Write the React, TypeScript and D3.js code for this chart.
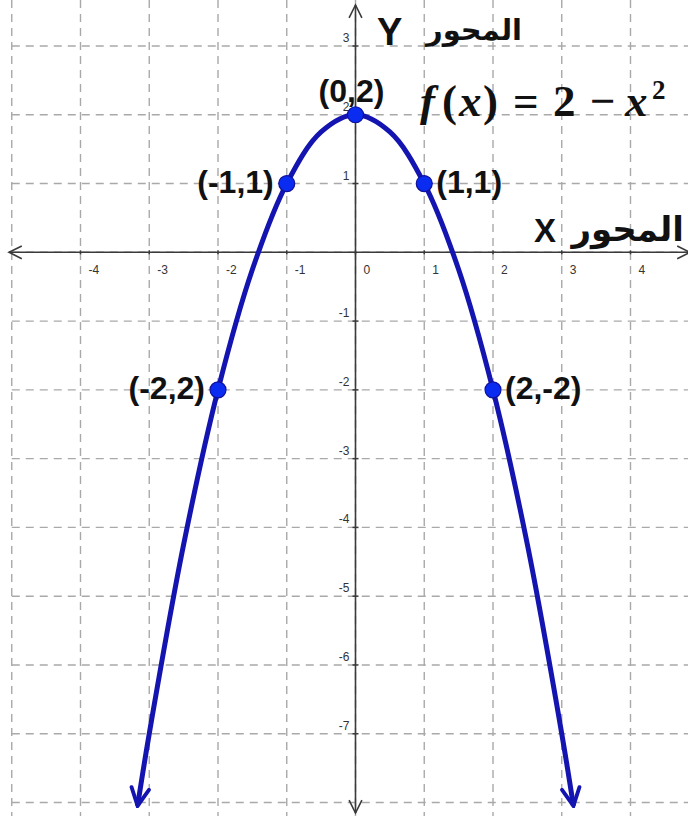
import React from 'react';
import * as d3 from 'd3';

// grid and tick values
const gridXs = [-5, -4, -3, -2, -1, 0, 1, 2, 3, 4];
const gridYs = [3, 2, 1, 0, -1, -2, -3, -4, -5, -6, -7, -8];
const xTickLabels = [-4, -3, -2, -1, 0, 1, 2, 3, 4];
const yTickLabels = [3, 2, 1, -1, -2, -3, -4, -5, -6, -7];

// curve
const curveXs = [-3.17, -3, -2.5, -2, -1.5, -1, -0.5, 0, 0.5, 1, 1.5, 2, 2.5, 3, 3.17];
const curveYs = [-8.05, -7, -4.25, -2, -0.25, 1, 1.75, 2, 1.75, 1, -0.25, -2, -4.25, -7, -8.05];

// marked points and their labels
const pointXs = [0, -1, 1, -2, 2];
const pointYs = [2, 1, 1, -2, -2];
const pointLabels = ['(0,2)', '(-1,1)', '(1,1)', '(-2,2)', '(2,-2)'];
const labelSide = ['top', 'left', 'right', 'left', 'right'];

const W = 688;
const H = 816;

const x = d3.scaleLinear().domain([-5, 4]).range([11.75, 630.5]);
const y = d3.scaleLinear().domain([3, -8]).range([46, 802.5]);

const curveColor = '#1414b0';
const pointColor = '#0a2cf0';
const axisColor = '#3a3a3a';

export default function App() {
  const line = d3
    .line<number>()
    .x((d) => x(d))
    .y((_, i) => y(curveYs[i]))
    .curve(d3.curveCatmullRom.alpha(0.5));

  const x0 = x(0);
  const y0 = y(0);

  return (
    <svg
      width={W}
      height={H}
      style={{ position: 'absolute', left: 0, top: 0, background: '#fff' }}
      fontFamily="'Liberation Sans', Arial, sans-serif"
    >
      <defs>
        <marker
          id="curveArrow"
          viewBox="0 0 20 20"
          refX={18}
          refY={10}
          markerWidth={22}
          markerHeight={22}
          markerUnits="userSpaceOnUse"
          orient="auto-start-reverse"
        >
          <path d="M2,2 L18,10 L2,18" fill="none" stroke={curveColor} strokeWidth={3.5} strokeLinecap="round" />
        </marker>
        <marker
          id="axisArrow"
          viewBox="0 0 20 20"
          refX={18}
          refY={10}
          markerWidth={16}
          markerHeight={16}
          markerUnits="userSpaceOnUse"
          orient="auto-start-reverse"
        >
          <path d="M2,2 L18,10 L2,18" fill="none" stroke={axisColor} strokeWidth={2} />
        </marker>
      </defs>

      {/* grid */}
      <g stroke="#a9a9a9" strokeWidth={1.4} strokeDasharray="8,6">
        {gridXs.map((v) => (
          <line key={'gx' + v} x1={x(v)} x2={x(v)} y1={0} y2={H} />
        ))}
        {gridYs.map((v) => (
          <line key={'gy' + v} x1={x(-5)} x2={W} y1={y(v)} y2={y(v)} />
        ))}
      </g>

      {/* axes */}
      <line
        x1={9}
        x2={W + 2}
        y1={y0}
        y2={y0}
        stroke={axisColor}
        strokeWidth={1.6}
        markerStart="url(#axisArrow)"
        markerEnd="url(#axisArrow)"
      />
      <line
        x1={x0}
        x2={x0}
        y1={5}
        y2={813}
        stroke={axisColor}
        strokeWidth={1.6}
        markerStart="url(#axisArrow)"
        markerEnd="url(#axisArrow)"
      />

      {/* tick marks */}
      <g stroke={axisColor} strokeWidth={1.5}>
        {xTickLabels.map((v) => (
          <line key={'tx' + v} x1={x(v)} x2={x(v)} y1={y0 - 2} y2={y0 + 2} />
        ))}
        {yTickLabels.map((v) => (
          <line key={'ty' + v} x1={x0 - 3} x2={x0 + 3} y1={y(v)} y2={y(v)} />
        ))}
      </g>

      {/* tick labels */}
      <g fontSize={12} fill="#333">
        {xTickLabels.map((v) => (
          <text key={'lx' + v} x={x(v) + 8} y={y0 + 22}>
            {v}
          </text>
        ))}
        {yTickLabels.map((v) => (
          <text key={'ly' + v} x={x0 - 6} y={y(v) - 4} textAnchor="end">
            {v}
          </text>
        ))}
      </g>

      {/* curve */}
      <path
        d={line(curveXs) || ''}
        fill="none"
        stroke={curveColor}
        strokeWidth={5}
        markerStart="url(#curveArrow)"
        markerEnd="url(#curveArrow)"
      />

      {/* points */}
      {pointXs.map((px, i) => (
        <circle key={'p' + i} cx={x(px)} cy={y(pointYs[i])} r={8} fill={pointColor} stroke="#10109a" strokeWidth={1.2} />
      ))}

      {/* point labels */}
      <g fontSize={32} fontWeight="bold" fill="#111">
        {pointXs.map((px, i) => {
          const cx = x(px);
          const cy = y(pointYs[i]);
          const side = labelSide[i];
          if (side === 'top')
            return (
              <text key={'pl' + i} x={cx - 4} y={cy - 13} textAnchor="middle">
                {pointLabels[i]}
              </text>
            );
          if (side === 'left')
            return (
              <text key={'pl' + i} x={cx - 13} y={cy + 9} textAnchor="end">
                {pointLabels[i]}
              </text>
            );
          return (
            <text key={'pl' + i} x={cx + 12} y={cy + 9} textAnchor="start">
              {pointLabels[i]}
            </text>
          );
        })}
      </g>

      {/* axis titles */}
      <g fontWeight="bold" fill="#111">
        <text x={377} y={45} fontSize={38}>Y</text>
        <text x={522} y={40} fontSize={29} textAnchor="end" fontFamily="'DejaVu Sans', sans-serif">المحور</text>
        <text x={534} y={242} fontSize={33}>X</text>
        <text x={684} y={241} fontSize={34} textAnchor="end" fontFamily="'DejaVu Sans', sans-serif">المحور</text>
      </g>

      {/* formula */}
      <text
        y={116}
        fontSize={45}
        fontWeight="bold"
        fill="#111"
        fontFamily="'Liberation Serif', 'DejaVu Serif', serif"
      >
        <tspan x={420} fontStyle="italic">f</tspan>
        <tspan x={442}>(</tspan>
        <tspan x={459} fontStyle="italic">x</tspan>
        <tspan x={483}>)</tspan>
        <tspan x={513}>=</tspan>
        <tspan x={553}>2</tspan>
        <tspan x={590}>−</tspan>
        <tspan x={625} fontStyle="italic">x</tspan>
        <tspan x={652} fontSize={27} dy={-17}>2</tspan>
      </text>
    </svg>
  );
}
